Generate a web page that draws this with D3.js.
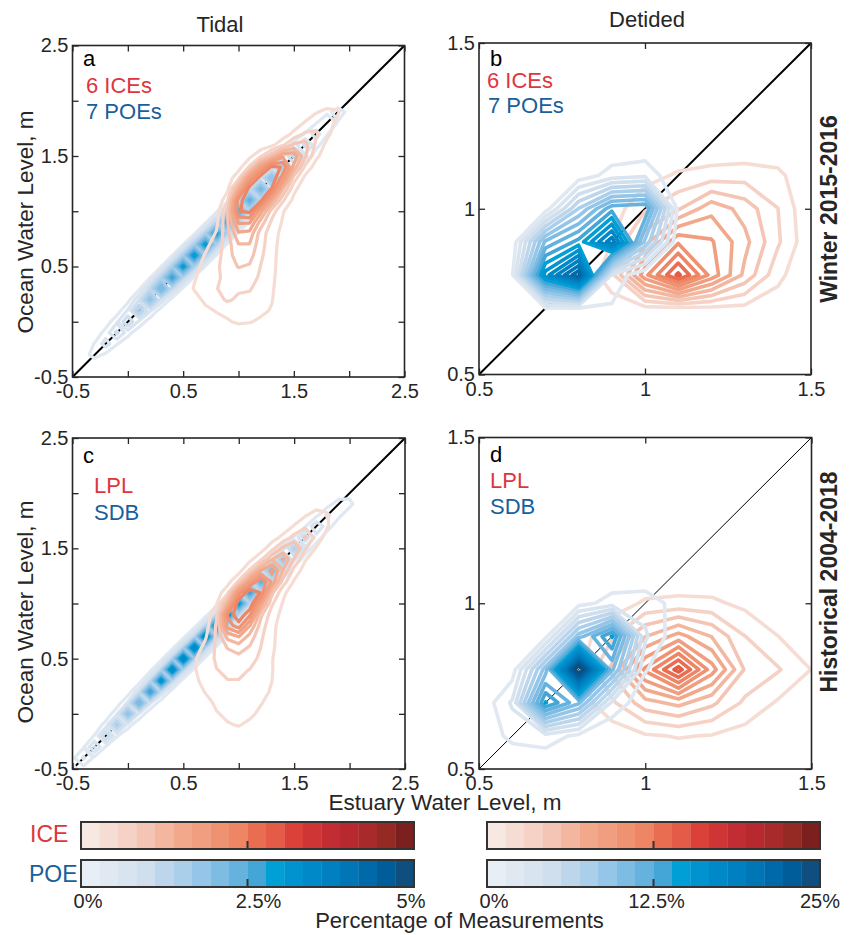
<!DOCTYPE html>
<html>
<head>
<meta charset="utf-8">
<script src="https://cdn.jsdelivr.net/npm/d3@7"></script>
<style>
  body { margin: 0; background: #fff; }
  text { font-family: "Liberation Sans", Arial, Helvetica, sans-serif; fill: #262626; }
</style>
</head>
<body>
<svg id="chart" width="853" height="935"></svg>
<script>
// grid extents [min, max, bin size] in metres
const tidalExtent = [-0.5, 2.5, 0.1];
const detidedExtent = [0.5, 1.5, 0.1];

const tidalTicks = [-0.5, 0, 0.5, 1, 1.5, 2, 2.5];
const tidalTickLabels = [-0.5, 0.5, 1.5, 2.5];
const detidedTicks = [0.5, 1, 1.5];
const detidedTickLabels = [0.5, 1, 1.5];

const tidalMax = 5;     // % for colour scale
const detidedMax = 25;
const cbLabelsTidal = ["0%", "2.5%", "5%"];
const cbLabelsDetided = ["0%", "12.5%", "25%"];

const iceColors = ["#f7e8e2", "#f6ddd4", "#f5d2c5", "#f4c5b4", "#f3b7a0", "#f2a88b", "#f09d80", "#ef9272", "#ee8565",
                   "#e96d50", "#e45b47", "#dc4139", "#cf3535", "#c22d33", "#b8292f", "#a82a2b", "#952a25", "#7b1f1f"];
const poeColors = ["#e8eef5", "#e0e8f2", "#d8e4f0", "#d0dfee", "#bdd6eb", "#aacfeb", "#95c5e8", "#7dbde4", "#66b2de",
                   "#44a6d7", "#00a0d6", "#0093cf", "#0089c8", "#0080c0", "#0076b6", "#0069aa", "#005d9a", "#0f4f80"];

// percentage of measurements per bin: [ocean level, first estuary level, values...]
const iceWinterTidal = [
  [2.0, 1.8, [0.1, 0.15]],
  [1.9, 1.6, [0.1, 0.25, 0.35, 0.3, 0.05]],
  [1.8, 1.5, [0.1, 0.3, 0.45, 0.4, 0.2]],
  [1.7, 1.4, [0.1, 0.35, 0.6, 0.6, 0.35, 0.1]],
  [1.6, 1.2, [0.1, 0.2, 0.5, 0.9, 0.95, 0.5, 0.2]],
  [1.5, 1.1, [0.2, 0.5, 1.0, 1.6, 1.6, 0.9, 0.35, 0.1]],
  [1.4, 1.0, [0.15, 0.6, 1.6, 2.3, 2.2, 1.3, 0.5, 0.15]],
  [1.3, 0.9, [0.1, 0.5, 1.7, 2.4, 2.47, 1.8, 0.7, 0.2]],
  [1.2, 0.9, [0.2, 1.3, 2.4, 2.48, 2.2, 1.1, 0.35, 0.1]],
  [1.1, 0.9, [0.5, 2.1, 2.46, 2.3, 1.4, 0.6, 0.2]],
  [1.0, 0.8, [0.15, 0.8, 2.2, 2.3, 1.5, 0.7, 0.3, 0.1]],
  [0.9, 0.8, [0.2, 0.8, 1.7, 1.7, 1.0, 0.5, 0.25, 0.05]],
  [0.8, 0.7, [0.1, 0.3, 0.75, 1.35, 1.3, 0.7, 0.4, 0.2]],
  [0.7, 0.7, [0.2, 0.4, 0.7, 1.1, 1.1, 0.65, 0.4, 0.15]],
  [0.6, 0.6, [0.1, 0.3, 0.45, 0.7, 1.0, 0.95, 0.6, 0.4, 0.1]],
  [0.5, 0.6, [0.2, 0.35, 0.5, 0.7, 0.85, 0.8, 0.55, 0.38, 0.1]],
  [0.4, 0.5, [0.05, 0.25, 0.4, 0.5, 0.65, 0.7, 0.7, 0.5, 0.35, 0.1]],
  [0.3, 0.5, [0.05, 0.3, 0.45, 0.55, 0.6, 0.6, 0.58, 0.45, 0.32, 0.1]],
  [0.2, 0.6, [0.15, 0.35, 0.45, 0.6, 0.5, 0.48, 0.4, 0.3, 0.05]],
  [0.1, 0.6, [0.05, 0.2, 0.3, 0.35, 0.4, 0.4, 0.35, 0.25]],
  [0.0, 0.7, [0.05, 0.15, 0.25, 0.32, 0.3, 0.22, 0.1]],
  [-0.1, 0.9, [0.05, 0.1, 0.05]]
];
const poeWinterTidal = [
  [-0.3, -0.5, [0, 0.15, 0.4, 0.2, 0]],
  [-0.2, -0.4, [0.05, 0.3, 0.7, 0.3, 0.05]],
  [-0.1, -0.3, [0.05, 0.4, 0.9, 0.4, 0.05]],
  [0.0, -0.2, [0.1, 0.5, 1.1, 0.5, 0.1]],
  [0.1, -0.1, [0.1, 0.6, 1.4, 0.6, 0.1]],
  [0.2, 0.0, [0.15, 0.8, 1.8, 0.75, 0.15]],
  [0.3, 0.1, [0.2, 1.0, 2.2, 0.95, 0.2]],
  [0.4, 0.2, [0.25, 1.2, 2.6, 1.1, 0.2]],
  [0.5, 0.3, [0.25, 1.3, 2.9, 1.2, 0.25]],
  [0.6, 0.4, [0.25, 1.3, 3.0, 1.25, 0.25]],
  [0.7, 0.5, [0.25, 1.3, 2.9, 1.2, 0.2]],
  [0.8, 0.6, [0.2, 1.2, 2.8, 1.1, 0.2]],
  [0.9, 0.7, [0.2, 1.1, 2.6, 1.0, 0.2]],
  [1.0, 0.8, [0.2, 1.0, 2.5, 1.0, 0.2]],
  [1.1, 0.9, [0.15, 0.95, 2.3, 0.9, 0.15]],
  [1.2, 1.0, [0.15, 0.85, 2.1, 0.85, 0.15]],
  [1.3, 1.1, [0.15, 0.8, 1.9, 0.8, 0.15]],
  [1.4, 1.2, [0.1, 0.65, 1.6, 0.65, 0.1]],
  [1.5, 1.3, [0.1, 0.5, 1.2, 0.5, 0.1]],
  [1.6, 1.4, [0.05, 0.4, 0.9, 0.4, 0.05]],
  [1.7, 1.5, [0.05, 0.3, 0.7, 0.3, 0.05]],
  [1.8, 1.6, [0, 0.25, 0.55, 0.25, 0]],
  [1.9, 1.7, [0, 0.2, 0.4, 0.2, 0]],
  [2.0, 1.8, [0, 0.05, 0.15, 0.1, 0]]
];
const iceWinterDetided = [
  [1.1, 1.0, [0.8, 1.6, 2.0, 2.2, 1.8]],
  [1.0, 0.9, [0.6, 2.6, 4.0, 6.5, 5.0, 2.8]],
  [0.9, 0.9, [1.4, 5.0, 9.5, 8.5, 6.0, 3.0, 0.2]],
  [0.8, 0.9, [2.3, 9.3, 14.2, 9.2, 5.2, 1.8]],
  [0.7, 0.9, [0.6, 1.0, 1.1, 1.1, 1.0, 0.6]]
];
const poeWinterDetided = [
  [1.1, 0.8, [0.5, 2.0, 2.5]],
  [1.0, 0.6, [0, 0.6, 7.0, 12.0, 12.5, 1.0]],
  [0.9, 0.6, [0.3, 10.0, 13.0, 19.0, 8.0, 0.3]],
  [0.8, 0.6, [1.2, 16.0, 22.0, 2.5, 0.2]],
  [0.7, 0.6, [0.3, 1.3, 1.35, 1.2, 0.3]]
];
const iceHistTidal = [
  [1.9, 1.6, [0.05, 0.15, 0.2, 0.1]],
  [1.8, 1.5, [0.1, 0.25, 0.4, 0.3, 0.1]],
  [1.7, 1.4, [0.1, 0.3, 0.5, 0.55, 0.3, 0.05]],
  [1.6, 1.3, [0.15, 0.35, 0.65, 0.85, 0.45, 0.15]],
  [1.5, 1.2, [0.15, 0.45, 0.9, 1.1, 0.6, 0.25, 0.05]],
  [1.4, 1.1, [0.2, 0.5, 1.1, 1.4, 0.8, 0.3, 0.1]],
  [1.3, 1.0, [0.15, 0.6, 1.4, 1.7, 1.1, 0.45, 0.15]],
  [1.2, 0.9, [0.15, 0.6, 1.6, 2.2, 1.6, 0.7, 0.25, 0.05]],
  [1.1, 0.8, [0.1, 0.5, 1.8, 2.45, 2.2, 0.9, 0.35, 0.1]],
  [1.0, 0.8, [0.25, 1.2, 2.46, 2.47, 1.5, 0.6, 0.25, 0.05]],
  [0.9, 0.7, [0.1, 0.5, 2.0, 2.46, 2.0, 0.9, 0.4, 0.2]],
  [0.8, 0.7, [0.15, 0.6, 1.8, 2.1, 1.4, 0.7, 0.35, 0.15]],
  [0.7, 0.6, [0.05, 0.25, 0.6, 1.2, 1.4, 1.0, 0.6, 0.35, 0.1]],
  [0.6, 0.6, [0.15, 0.35, 0.6, 0.85, 0.95, 0.8, 0.55, 0.35, 0.05]],
  [0.5, 0.5, [0.05, 0.25, 0.4, 0.6, 0.7, 0.75, 0.65, 0.5, 0.3]],
  [0.4, 0.5, [0.05, 0.25, 0.45, 0.55, 0.6, 0.6, 0.55, 0.45, 0.3]],
  [0.3, 0.6, [0.2, 0.4, 0.5, 0.55, 0.55, 0.5, 0.4, 0.28]],
  [0.2, 0.6, [0.1, 0.3, 0.45, 0.55, 0.5, 0.45, 0.35, 0.25]],
  [0.1, 0.7, [0.15, 0.35, 0.45, 0.45, 0.4, 0.3, 0.15]],
  [0.0, 0.7, [0.05, 0.25, 0.35, 0.4, 0.35, 0.2, 0.05]],
  [-0.1, 0.8, [0.1, 0.25, 0.3, 0.2, 0.05]],
  [-0.2, 0.9, [0.05, 0.1, 0.05]]
];
const poeHistTidal = [
  [-0.5, -0.7, [0, 0.1, 0.35, 0.15, 0]],
  [-0.4, -0.6, [0, 0.2, 0.6, 0.2, 0]],
  [-0.3, -0.5, [0, 0.25, 0.85, 0.25, 0]],
  [-0.2, -0.4, [0.05, 0.3, 1.1, 0.3, 0.05]],
  [-0.1, -0.3, [0.05, 0.4, 1.4, 0.4, 0.05]],
  [0.0, -0.2, [0.05, 0.5, 1.8, 0.5, 0.05]],
  [0.1, -0.1, [0.1, 0.6, 2.2, 0.6, 0.1]],
  [0.2, 0.0, [0.1, 0.75, 2.7, 0.75, 0.1]],
  [0.3, 0.1, [0.1, 0.9, 3.1, 0.9, 0.1]],
  [0.4, 0.2, [0.15, 1.0, 3.4, 1.0, 0.15]],
  [0.5, 0.3, [0.15, 1.1, 3.5, 1.1, 0.15]],
  [0.6, 0.4, [0.15, 1.1, 3.5, 1.1, 0.15]],
  [0.7, 0.5, [0.15, 1.0, 3.4, 1.05, 0.15]],
  [0.8, 0.6, [0.1, 1.0, 3.2, 1.0, 0.15]],
  [0.9, 0.7, [0.1, 0.9, 3.1, 0.95, 0.15]],
  [1.0, 0.8, [0.1, 0.85, 2.9, 0.9, 0.15]],
  [1.1, 0.9, [0.1, 0.8, 2.6, 0.85, 0.1]],
  [1.2, 1.0, [0.1, 0.7, 2.3, 0.8, 0.1]],
  [1.3, 1.1, [0.05, 0.6, 2.0, 0.7, 0.1]],
  [1.4, 1.2, [0.05, 0.5, 1.6, 0.6, 0.1]],
  [1.5, 1.3, [0.05, 0.4, 1.3, 0.5, 0.1]],
  [1.6, 1.4, [0, 0.3, 1.0, 0.45, 0.1]],
  [1.7, 1.5, [0, 0.25, 0.8, 0.4, 0.1]],
  [1.8, 1.6, [0, 0.2, 0.6, 0.35, 0.1]],
  [1.9, 1.7, [0, 0.15, 0.45, 0.35, 0.1]],
  [2.0, 1.8, [0, 0.05, 0.2, 0.15, 0.05]]
];
const iceHistDetided = [
  [1.0, 0.9, [0.6, 1.6, 1.8, 1.7, 1.0, 0.3]],
  [0.9, 0.8, [0.6, 2.6, 5.5, 7.5, 5.5, 2.8, 1.4, 0.5]],
  [0.8, 0.8, [1.0, 4.5, 10.0, 14.5, 9.0, 4.0, 2.9, 1.35]],
  [0.7, 0.8, [0.6, 2.5, 5.0, 6.0, 4.5, 2.5, 1.2, 0.4]],
  [0.6, 0.9, [0.5, 1.2, 1.5, 1.3, 0.8, 0.2]]
];
const poeHistDetided = [
  [1.0, 0.8, [0.8, 2.0, 2.2, 0.8]],
  [0.9, 0.6, [0.1, 1.0, 9.0, 14.0, 3.0, 0.3]],
  [0.8, 0.6, [0.6, 9.0, 25.5, 10.0, 1.5]],
  [0.7, 0.5, [0.1, 3.0, 14.0, 10.0, 2.5, 0.3]],
  [0.6, 0.5, [0.3, 1.8, 2.2, 1.0]]
];

const svg = d3.select("#chart");
const axisColor = "#262626";
const red = "#e0353d", blue = "#17609a";

const panels = [
  {id: "a", box: [72.5, 404.5, 45.5, 377], ext: tidalExtent, ticks: tidalTicks, labels: tidalTickLabels,
   ice: iceWinterTidal, poe: poeWinterTidal, max: tidalMax, diagW: 2, redOnTop: true, lineW: 3.2,
   letter: [83, 66], l1: ["6 ICEs", 86, 92.7], l2: ["7 POEs", 86, 119]},
  {id: "b", box: [479, 811, 43, 374.5], ext: detidedExtent, ticks: detidedTicks, labels: detidedTickLabels,
   ice: iceWinterDetided, poe: poeWinterDetided, max: detidedMax, diagW: 2, redOnTop: false, lineW: 3.6,
   letter: [490, 65.7], l1: ["6 ICEs", 487, 87.7], l2: ["7 POEs", 488, 113.3]},
  {id: "c", box: [72.5, 405, 438, 769], ext: tidalExtent, ticks: tidalTicks, labels: tidalTickLabels,
   ice: iceHistTidal, poe: poeHistTidal, max: tidalMax, diagW: 2, redOnTop: true, lineW: 3.2,
   letter: [83, 463], l1: ["LPL", 94, 493], l2: ["SDB", 94, 520]},
  {id: "d", box: [479, 811.5, 437.5, 769], ext: detidedExtent, ticks: detidedTicks, labels: detidedTickLabels,
   ice: iceHistDetided, poe: poeHistDetided, max: detidedMax, diagW: 1, redOnTop: false, lineW: 3.6,
   letter: [490, 462], l1: ["LPL", 490, 488], l2: ["SDB", 490, 514]}
];

function buildGrid(rows, ext) {
  const n = Math.round((ext[1] - ext[0]) / ext[2]) + 1;
  const grid = new Array(n * n).fill(0);
  rows.forEach(([y, x0, vals]) => {
    const j = Math.round((y - ext[0]) / ext[2]);
    const i0 = Math.round((x0 - ext[0]) / ext[2]);
    vals.forEach((v, k) => {
      const i = i0 + k;
      if (i >= 0 && i < n && j >= 0 && j < n) grid[j * n + i] = v;
    });
  });
  return {grid, n};
}

function drawDensity(g, rows, ext, colors, maxPct, xs, ys, lineW) {
  const {grid, n} = buildGrid(rows, ext);
  const levels = d3.range(1, colors.length).map(k => k * maxPct / colors.length);
  const contours = d3.contours().size([n, n]).thresholds(levels)(grid);
  // grid value i sits at contour coordinate i + 0.5
  const proj = d3.geoTransform({
    point: function(px, py) {
      this.stream.point(xs(ext[0] + (px - 0.5) * ext[2]), ys(ext[0] + (py - 0.5) * ext[2]));
    }
  });
  const path = d3.geoPath(proj);
  g.append("g").selectAll("path")
    .data(contours)
    .enter()
    .append("path")
      .attr("d", path)
      .attr("fill", "none")
      .attr("stroke", (d, i) => colors[i + 1])
      .attr("stroke-width", lineW)
      .attr("stroke-linejoin", "round");
}

function styleAxis(sel) {
  sel.attr("font-family", null).attr("font-size", null).attr("color", axisColor);
  sel.select(".domain").remove();
  sel.selectAll(".tick line").attr("stroke-width", 1.3);
  sel.selectAll("text").style("font-size", "20px");
}

panels.forEach(p => {
  const [x0, x1, y0, y1] = p.box;
  const xs = d3.scaleLinear().domain([p.ext[0], p.ext[1]]).range([x0, x1]);
  const ys = d3.scaleLinear().domain([p.ext[0], p.ext[1]]).range([y1, y0]);

  svg.append("clipPath").attr("id", "clip-" + p.id)
    .append("rect").attr("x", x0).attr("y", y0).attr("width", x1 - x0).attr("height", y1 - y0);

  const plot = svg.append("g").attr("clip-path", "url(#clip-" + p.id + ")");

  // 1:1 line
  plot.append("line")
    .attr("x1", xs(p.ext[0])).attr("y1", ys(p.ext[0]))
    .attr("x2", xs(p.ext[1])).attr("y2", ys(p.ext[1]))
    .attr("stroke", "#000").attr("stroke-width", p.diagW);

  if (p.redOnTop) {
    drawDensity(plot, p.poe, p.ext, poeColors, p.max, xs, ys, p.lineW);
    drawDensity(plot, p.ice, p.ext, iceColors, p.max, xs, ys, p.lineW);
  } else {
    drawDensity(plot, p.ice, p.ext, iceColors, p.max, xs, ys, p.lineW);
    drawDensity(plot, p.poe, p.ext, poeColors, p.max, xs, ys, p.lineW);
  }

  const fmt = d => p.labels.includes(d) ? String(d) : "";

  svg.append("g").attr("transform", "translate(0," + y1 + ")")
    .call(d3.axisBottom(xs).tickValues(p.ticks).tickSize(-6).tickSizeOuter(0).tickPadding(7).tickFormat(fmt))
    .call(styleAxis);
  svg.append("g").attr("transform", "translate(0," + y0 + ")")
    .call(d3.axisTop(xs).tickValues(p.ticks).tickSize(-6).tickSizeOuter(0).tickFormat(""))
    .call(styleAxis);
  svg.append("g").attr("transform", "translate(" + x0 + ",0)")
    .call(d3.axisLeft(ys).tickValues(p.ticks).tickSize(-6).tickSizeOuter(0).tickPadding(4).tickFormat(fmt))
    .call(styleAxis);
  svg.append("g").attr("transform", "translate(" + x1 + ",0)")
    .call(d3.axisRight(ys).tickValues(p.ticks).tickSize(-6).tickSizeOuter(0).tickFormat(""))
    .call(styleAxis);

  svg.append("rect")
    .attr("x", x0).attr("y", y0).attr("width", x1 - x0).attr("height", y1 - y0)
    .attr("fill", "none").attr("stroke", axisColor).attr("stroke-width", 1.6);

  svg.append("text").attr("x", p.letter[0]).attr("y", p.letter[1])
    .style("font-size", "22px").style("fill", "#000").text(p.id);
  svg.append("text").attr("x", p.l1[1]).attr("y", p.l1[2])
    .style("font-size", "22px").style("fill", red).text(p.l1[0]);
  svg.append("text").attr("x", p.l2[1]).attr("y", p.l2[2])
    .style("font-size", "22px").style("fill", blue).text(p.l2[0]);
});

// column titles
svg.append("text").attr("x", 220).attr("y", 31.5).attr("text-anchor", "middle")
  .style("font-size", "22px").text("Tidal");
svg.append("text").attr("x", 647).attr("y", 27).attr("text-anchor", "middle")
  .style("font-size", "22px").text("Detided");

// axis titles
[222, 612].forEach(cy => {
  svg.append("text").attr("transform", "translate(33," + cy + ")rotate(-90)")
    .attr("text-anchor", "middle").style("font-size", "22.5px").text("Ocean Water Level, m");
});
svg.append("text").attr("x", 445).attr("y", 810).attr("text-anchor", "middle")
  .style("font-size", "22.5px").text("Estuary Water Level, m");

// row titles
svg.append("text").attr("transform", "translate(837,209)rotate(-90)")
  .attr("text-anchor", "middle").style("font-size", "23px").style("font-weight", "bold").text("Winter 2015-2016");
svg.append("text").attr("transform", "translate(837,582)rotate(-90)")
  .attr("text-anchor", "middle").style("font-size", "23px").style("font-weight", "bold").text("Historical 2004-2018");

// colour bars
const bars = [
  {x: [81, 414], max: tidalMax, labels: cbLabelsTidal, nudge: [7, 11, -3]},
  {x: [487, 820], max: detidedMax, labels: cbLabelsDetided, nudge: [7, 3, 0]}
];
const barRows = [{colors: iceColors, y: 822, h: 27}, {colors: poeColors, y: 860, h: 27}];

bars.forEach(b => {
  const cs = d3.scaleLinear().domain([0, b.max]).range(b.x);
  const step = b.max / iceColors.length;
  barRows.forEach(r => {
    svg.append("g").selectAll("rect")
      .data(r.colors)
      .enter()
      .append("rect")
        .attr("x", (d, i) => cs(i * step))
        .attr("y", r.y)
        .attr("width", cs(step) - cs(0) + 0.3)
        .attr("height", r.h)
        .attr("fill", d => d);
    svg.append("rect").attr("x", b.x[0]).attr("y", r.y).attr("width", b.x[1] - b.x[0]).attr("height", r.h)
      .attr("fill", "none").attr("stroke", "#333").attr("stroke-width", 2);
    svg.append("line").attr("x1", cs(b.max / 2)).attr("x2", cs(b.max / 2))
      .attr("y1", r.y + r.h).attr("y2", r.y + r.h - 8)
      .attr("stroke", "#333").attr("stroke-width", 2);
  });
  const vals = [0, b.max / 2, b.max];
  svg.append("g").selectAll("text")
    .data(b.labels)
    .enter()
    .append("text")
      .attr("x", (d, i) => cs(vals[i]) + b.nudge[i])
      .attr("y", 908)
      .attr("text-anchor", "middle")
      .style("font-size", "20px")
      .text(d => d);
});

svg.append("text").attr("x", 30).attr("y", 842).style("font-size", "23px").style("fill", red).text("ICE");
svg.append("text").attr("x", 29).attr("y", 882).style("font-size", "23px").style("fill", blue).text("POE");
svg.append("text").attr("x", 459.5).attr("y", 928).attr("text-anchor", "middle")
  .style("font-size", "22px").text("Percentage of Measurements");
</script>
</body>
</html>
